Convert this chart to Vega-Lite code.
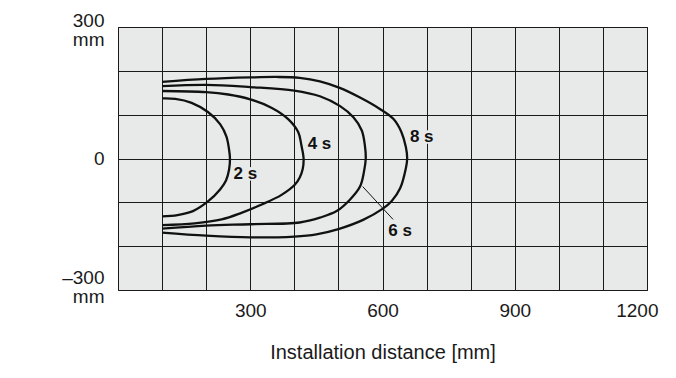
{
  "$schema": "https://vega.github.io/schema/vega-lite/v6.json",
  "width": 529,
  "height": 263,
  "autosize": {"type": "none"},
  "padding": {"left": 118, "top": 27, "right": 29, "bottom": 88},
  "background": "white",
  "config": {
    "view": {"fill": "#e8e9e9", "stroke": "#1a1a1a", "strokeWidth": 1},
    "font": "Liberation Sans"
  },
  "datasets": {
    "curves": [
      {"curve": "2 s", "i": 0, "x": 100, "y": 137},
      {"curve": "2 s", "i": 1, "x": 130, "y": 136},
      {"curve": "2 s", "i": 2, "x": 167, "y": 127},
      {"curve": "2 s", "i": 3, "x": 204, "y": 106},
      {"curve": "2 s", "i": 4, "x": 232, "y": 78},
      {"curve": "2 s", "i": 5, "x": 246, "y": 50},
      {"curve": "2 s", "i": 6, "x": 252, "y": 20},
      {"curve": "2 s", "i": 7, "x": 254, "y": 0},
      {"curve": "2 s", "i": 8, "x": 252, "y": -25},
      {"curve": "2 s", "i": 9, "x": 245, "y": -50},
      {"curve": "2 s", "i": 10, "x": 232, "y": -70},
      {"curve": "2 s", "i": 11, "x": 204, "y": -98},
      {"curve": "2 s", "i": 12, "x": 170, "y": -120},
      {"curve": "2 s", "i": 13, "x": 135, "y": -129},
      {"curve": "2 s", "i": 14, "x": 100, "y": -132},
      {"curve": "4 s", "i": 0, "x": 100, "y": 154},
      {"curve": "4 s", "i": 1, "x": 200, "y": 151.5},
      {"curve": "4 s", "i": 2, "x": 250, "y": 146},
      {"curve": "4 s", "i": 3, "x": 300, "y": 135},
      {"curve": "4 s", "i": 4, "x": 348, "y": 116},
      {"curve": "4 s", "i": 5, "x": 386, "y": 90},
      {"curve": "4 s", "i": 6, "x": 409, "y": 60},
      {"curve": "4 s", "i": 7, "x": 416, "y": 30},
      {"curve": "4 s", "i": 8, "x": 421, "y": 0},
      {"curve": "4 s", "i": 9, "x": 419, "y": -24},
      {"curve": "4 s", "i": 10, "x": 412, "y": -44},
      {"curve": "4 s", "i": 11, "x": 401, "y": -60},
      {"curve": "4 s", "i": 12, "x": 371, "y": -83},
      {"curve": "4 s", "i": 13, "x": 326, "y": -105},
      {"curve": "4 s", "i": 14, "x": 280, "y": -124},
      {"curve": "4 s", "i": 15, "x": 235, "y": -139},
      {"curve": "4 s", "i": 16, "x": 174, "y": -148},
      {"curve": "4 s", "i": 17, "x": 100, "y": -152},
      {"curve": "6 s", "i": 0, "x": 100, "y": 165},
      {"curve": "6 s", "i": 1, "x": 200, "y": 168},
      {"curve": "6 s", "i": 2, "x": 300, "y": 163},
      {"curve": "6 s", "i": 3, "x": 400, "y": 155},
      {"curve": "6 s", "i": 4, "x": 458, "y": 142},
      {"curve": "6 s", "i": 5, "x": 503, "y": 120},
      {"curve": "6 s", "i": 6, "x": 534, "y": 94},
      {"curve": "6 s", "i": 7, "x": 553, "y": 64},
      {"curve": "6 s", "i": 8, "x": 560, "y": 30},
      {"curve": "6 s", "i": 9, "x": 562, "y": 0},
      {"curve": "6 s", "i": 10, "x": 558, "y": -30},
      {"curve": "6 s", "i": 11, "x": 549, "y": -64},
      {"curve": "6 s", "i": 12, "x": 526, "y": -94},
      {"curve": "6 s", "i": 13, "x": 496, "y": -120},
      {"curve": "6 s", "i": 14, "x": 458, "y": -135},
      {"curve": "6 s", "i": 15, "x": 412, "y": -146},
      {"curve": "6 s", "i": 16, "x": 300, "y": -150},
      {"curve": "6 s", "i": 17, "x": 200, "y": -153},
      {"curve": "6 s", "i": 18, "x": 100, "y": -160},
      {"curve": "8 s", "i": 0, "x": 100, "y": 175},
      {"curve": "8 s", "i": 1, "x": 200, "y": 181.5},
      {"curve": "8 s", "i": 2, "x": 300, "y": 185},
      {"curve": "8 s", "i": 3, "x": 360, "y": 186},
      {"curve": "8 s", "i": 4, "x": 412, "y": 184},
      {"curve": "8 s", "i": 5, "x": 458, "y": 176},
      {"curve": "8 s", "i": 6, "x": 503, "y": 161},
      {"curve": "8 s", "i": 7, "x": 549, "y": 139},
      {"curve": "8 s", "i": 8, "x": 594, "y": 113},
      {"curve": "8 s", "i": 9, "x": 625, "y": 90},
      {"curve": "8 s", "i": 10, "x": 643, "y": 60},
      {"curve": "8 s", "i": 11, "x": 653, "y": 26},
      {"curve": "8 s", "i": 12, "x": 656, "y": 0},
      {"curve": "8 s", "i": 13, "x": 653, "y": -22},
      {"curve": "8 s", "i": 14, "x": 640, "y": -68},
      {"curve": "8 s", "i": 15, "x": 621, "y": -97},
      {"curve": "8 s", "i": 16, "x": 600, "y": -115},
      {"curve": "8 s", "i": 17, "x": 556, "y": -140},
      {"curve": "8 s", "i": 18, "x": 500, "y": -161},
      {"curve": "8 s", "i": 19, "x": 450, "y": -173},
      {"curve": "8 s", "i": 20, "x": 400, "y": -178},
      {"curve": "8 s", "i": 21, "x": 300, "y": -180},
      {"curve": "8 s", "i": 22, "x": 200, "y": -176},
      {"curve": "8 s", "i": 23, "x": 100, "y": -169}
    ],
    "labels": [
      {"label": "2 s", "x": 289, "y": -35},
      {"label": "4 s", "x": 457, "y": 34},
      {"label": "8 s", "x": 689, "y": 49},
      {"label": "6 s", "x": 640, "y": -166}
    ],
    "leader": [
      {"x": 555, "y": -64, "x2": 624, "y2": -139}
    ]
  },
  "encoding": {
    "x": {
      "field": "x",
      "type": "quantitative",
      "scale": {"domain": [0, 1200], "nice": false, "zero": false},
      "axis": {
        "values": [0, 100, 200, 300, 400, 500, 600, 700, 800, 900, 1000, 1100, 1200],
        "format": "d",
        "labelExpr": "datum.value % 300 === 0 && datum.value > 0 ? datum.label : ''",
        "labelOverlap": false,
        "labelFlush": true,
        "labelFlushOffset": 11,
        "title": "Installation distance [mm]",
        "grid": true,
        "gridColor": "#1a1a1a",
        "gridOpacity": 1,
        "gridWidth": 1,
        "ticks": false,
        "domain": false,
        "labelFontSize": 19,
        "labelColor": "#1a1a1a",
        "labelPadding": 11,
        "titleFontSize": 20,
        "titleFontWeight": "normal",
        "titleColor": "#1a1a1a",
        "titlePadding": 22
      }
    },
    "y": {
      "field": "y",
      "type": "quantitative",
      "scale": {"domain": [-300, 300], "nice": false, "zero": false},
      "axis": {
        "values": [-300, -200, -100, 0, 100, 200, 300],
        "labelExpr": "datum.value === 300 ? ['300', 'mm'] : datum.value === -300 ? ['–300', 'mm'] : datum.value === 0 ? '0' : ''",
        "labelOverlap": false,
        "title": null,
        "grid": true,
        "gridColor": "#1a1a1a",
        "gridOpacity": 1,
        "gridWidth": 1,
        "ticks": false,
        "domain": false,
        "labelFontSize": 19,
        "labelLineHeight": 19,
        "labelColor": "#1a1a1a",
        "labelPadding": 14,
        "labelAlign": "right",
        "labelBaseline": "middle",
        "labelOffset": {
          "condition": [
            {"test": "datum.value === 300", "value": -7},
            {"test": "datum.value === -300", "value": -13}
          ],
          "value": 0
        }
      }
    }
  },
  "layer": [
    {
      "data": {"name": "labels"},
      "mark": {"type": "point", "shape": "M-1,-0.45H1V0.45H-1Z", "filled": true, "fill": "#e8e9e9", "opacity": 1, "strokeWidth": 0, "size": 900}
    },
    {
      "data": {"name": "curves"},
      "mark": {"type": "line", "interpolate": "catmull-rom", "color": "#111111", "strokeWidth": 2.3},
      "encoding": {
        "detail": {"field": "curve"},
        "order": {"field": "i", "type": "quantitative"}
      }
    },
    {
      "data": {"name": "leader"},
      "mark": {"type": "rule", "color": "#111111", "strokeWidth": 1},
      "encoding": {
        "x2": {"field": "x2"},
        "y2": {"field": "y2"}
      }
    },
    {
      "data": {"name": "labels"},
      "mark": {"type": "text", "fontWeight": "bold", "fontSize": 17, "color": "#111111", "font": "Liberation Sans"},
      "encoding": {
        "text": {"field": "label"}
      }
    }
  ]
}
